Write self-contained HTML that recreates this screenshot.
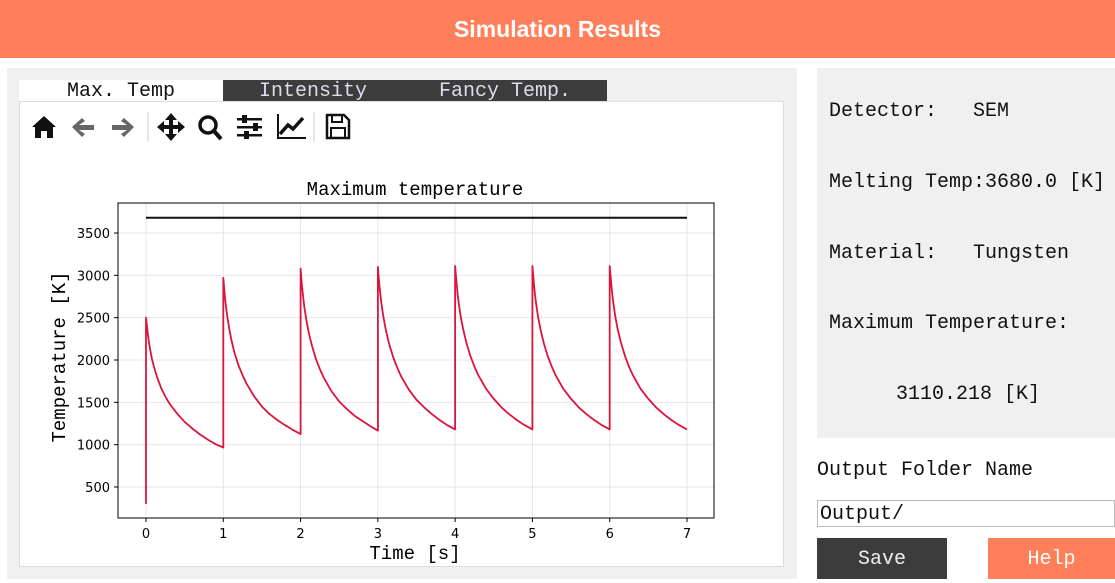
<!DOCTYPE html>
<html><head><meta charset="utf-8">
<style>
body{margin:0;width:1115px;height:583px;overflow:hidden;background:#fff;font-family:"Liberation Mono",monospace;position:relative}
div{position:absolute;box-sizing:border-box}
.mono{font-family:"Liberation Mono",monospace;font-size:20px;color:#111;white-space:pre}
</style></head><body>
<div style="left:0;top:0;width:1115px;height:58px;background:#ff7f5a;color:#fff;font:bold 23px 'Liberation Sans',sans-serif;text-align:center;line-height:58px">Simulation Results</div>
<div style="left:7px;top:68px;width:790px;height:511px;background:#f0f0f0"></div>
<div style="left:19px;top:80px;width:204px;height:22px;background:#fff;font-size:20px;text-align:center;line-height:24px;color:#111">Max. Temp</div>
<div style="left:223px;top:80px;width:180px;height:22px;background:#3c3c3c;font-size:20px;text-align:center;line-height:24px;color:#dde">Intensity</div>
<div style="left:403px;top:80px;width:204px;height:22px;background:#3c3c3c;font-size:20px;text-align:center;line-height:24px;color:#dde">Fancy Temp.</div>
<div style="left:19px;top:101px;width:765px;height:466px;background:#fff;border:1px solid #ddd"></div>
<svg style="position:absolute;left:28px;top:110px" width="330" height="34">
<g><path d="M4 17 L16 6 L28 17 L25 17 L25 28 L19 28 L19 21 L13 21 L13 28 L7 28 L7 17Z" fill="#111"/></g>
<g><path d="M44 17 L54 8 L57 11 L51 15 L66 15 L66 20 L51 20 L57 24 L54 27Z" fill="#666"/></g>
<g><path d="M106 17 L96 8 L93 11 L99 15 L84 15 L84 20 L99 20 L93 24 L96 27Z" fill="#666"/></g>
<line x1="120" y1="2" x2="120" y2="32" stroke="#ccc"/>
<g fill="#111"><path d="M143 3 L149 10 L145 10 L145 15 L150 15 L150 11 L157 17 L150 23 L150 19 L145 19 L145 24 L149 24 L143 31 L137 24 L141 24 L141 19 L136 19 L136 23 L129 17 L136 11 L136 15 L141 15 L141 10 L137 10Z"/></g>
<g><circle cx="180" cy="15" r="8" fill="none" stroke="#111" stroke-width="3.5"/><line x1="186" y1="21" x2="193" y2="29" stroke="#111" stroke-width="4"/></g>
<g fill="#111"><rect x="209" y="8" width="25" height="2.5"/><rect x="209" y="16" width="25" height="2.5"/><rect x="209" y="24" width="25" height="2.5"/><rect x="214" y="5" width="5" height="8"/><rect x="225" y="13" width="5" height="8"/><rect x="216" y="21" width="5" height="8"/></g>
<g><path d="M250 4 L250 28 L278 28" fill="none" stroke="#111" stroke-width="2"/><path d="M252 24 L260 15 L265 19 L275 8" fill="none" stroke="#111" stroke-width="3.5"/></g>
<line x1="286" y1="2" x2="286" y2="32" stroke="#ccc"/>
<g><path d="M299 5 L316 5 L321 10 L321 28 L299 28Z" fill="none" stroke="#111" stroke-width="2.5"/><rect x="304" y="5" width="10" height="7" fill="none" stroke="#111" stroke-width="2"/><rect x="303" y="18" width="14" height="10" fill="none" stroke="#111" stroke-width="2"/></g>
</svg>
<svg id="chart" style="position:absolute;left:0;top:0" width="800" height="583"></svg>
<div style="left:817px;top:68px;width:298px;height:370px;background:#f0f0f0"></div>
<div class="mono" style="left:829px;top:100px">Detector:   SEM</div>
<div class="mono" style="left:829px;top:171px">Melting Temp:3680.0 [K]</div>
<div class="mono" style="left:829px;top:242px">Material:   Tungsten</div>
<div class="mono" style="left:829px;top:312px">Maximum Temperature:</div>
<div class="mono" style="left:896px;top:383px">3110.218 [K]</div>
<div class="mono" style="left:817px;top:459px">Output Folder Name</div>
<div class="mono" style="left:817px;top:500px;width:298px;height:27px;border:1px solid #bbb;padding-left:2px;line-height:27px">Output/</div>
<div style="left:817px;top:538px;width:130px;height:41px;background:#3c3c3c;color:#eee;font-size:20px;text-align:center;line-height:43px">Save</div>
<div style="left:988px;top:538px;width:127px;height:41px;background:#ff7f5a;color:#fff;font-size:20px;text-align:center;line-height:43px">Help</div>
<script>
const xTicks=[0,1,2,3,4,5,6,7];
const yTicks=[500,1000,1500,2000,2500,3000,3500];
const meltingTemp=3680;
const cycleOffsets=[0,0.01,0.02,0.035,0.05,0.075,0.1,0.125,0.15,0.2,0.25,0.3,0.4,0.5,0.6,0.7,0.8,0.9,1.0];
const startTemp=300;
const cycle0=[2500,2420,2340,2230,2140,2020,1930,1850,1780,1660,1570,1490,1370,1270,1190,1120,1060,1005,965];
const cycle1=[2970,2860,2760,2630,2520,2380,2260,2160,2070,1930,1820,1720,1570,1450,1360,1290,1230,1175,1125];
const cycle2=[3080,2970,2860,2730,2620,2470,2350,2250,2160,2010,1890,1790,1630,1510,1420,1340,1280,1220,1165];
const cycle3=[3100,2990,2880,2750,2640,2490,2370,2270,2180,2030,1910,1810,1650,1530,1440,1360,1290,1230,1180];
const cycle4=[3110,3000,2890,2760,2650,2500,2380,2280,2190,2040,1920,1820,1660,1540,1440,1360,1290,1230,1180];
const cycle5=[3110,3000,2890,2760,2650,2500,2380,2280,2190,2040,1920,1820,1660,1540,1440,1360,1290,1230,1180];
const cycle6=[3110,3000,2890,2760,2650,2500,2380,2280,2190,2040,1920,1820,1660,1540,1440,1360,1290,1230,1180];
const cycles=[cycle0,cycle1,cycle2,cycle3,cycle4,cycle5,cycle6];
const L=118,R=714,T=203,B=518;
const X=t=>146+(t-0)*(687-146)/7;
const Y=v=>487-(v-500)*(487-233)/3000;
const svg=document.getElementById('chart');const NS='http://www.w3.org/2000/svg';
function mk(tag,a){const e=document.createElementNS(NS,tag);for(const k in a)e.setAttribute(k,a[k]);svg.appendChild(e);return e;}
xTicks.forEach(t=>{const g=mk('line',{x1:X(t),x2:X(t),y1:T,y2:B,stroke:'#e6e6e6'});

mk('line',{x1:X(t),x2:X(t),y1:B,y2:B+4,stroke:'#000'});
const lb=mk('text',{x:X(t),y:B+20,'text-anchor':'middle','font-family':'DejaVu Sans,sans-serif','font-size':13});lb.textContent=t;
});
yTicks.forEach(v=>{const g=mk('line',{x1:L,x2:R,y1:Y(v),y2:Y(v),stroke:'#e6e6e6'});

mk('line',{x1:L-4,x2:L,y1:Y(v),y2:Y(v),stroke:'#000'});
const lb=mk('text',{x:L-8,y:Y(v)+5,'text-anchor':'end','font-family':'DejaVu Sans,sans-serif','font-size':13});lb.textContent=v;
});
const ml=mk('line',{x1:X(0),x2:X(7),y1:Y(meltingTemp),y2:Y(meltingTemp),stroke:'#111','stroke-width':2});

let d='M'+X(0)+','+Y(startTemp);
cycles.forEach((c,i)=>{c.forEach((v,j)=>{d+=' L'+X(i+cycleOffsets[j]).toFixed(1)+','+Y(v).toFixed(1);});});
const p=mk('path',{d:d,fill:'none',stroke:'#dc143c','stroke-width':1.8,'stroke-linejoin':'round'});

const fr=mk('rect',{x:L,y:T,width:R-L,height:B-T,fill:'none',stroke:'#000'});

const tt=mk('text',{x:415,y:195,'text-anchor':'middle','font-family':'Liberation Mono,monospace','font-size':19});tt.textContent='Maximum temperature';

const xl=mk('text',{x:415,y:559,'text-anchor':'middle','font-family':'Liberation Mono,monospace','font-size':19});xl.textContent='Time [s]';

const yl=mk('text',{x:0,y:0,'text-anchor':'middle','font-family':'Liberation Mono,monospace','font-size':19,transform:'translate(65,357) rotate(-90)'});yl.textContent='Temperature [K]';

</script>
</body></html>
